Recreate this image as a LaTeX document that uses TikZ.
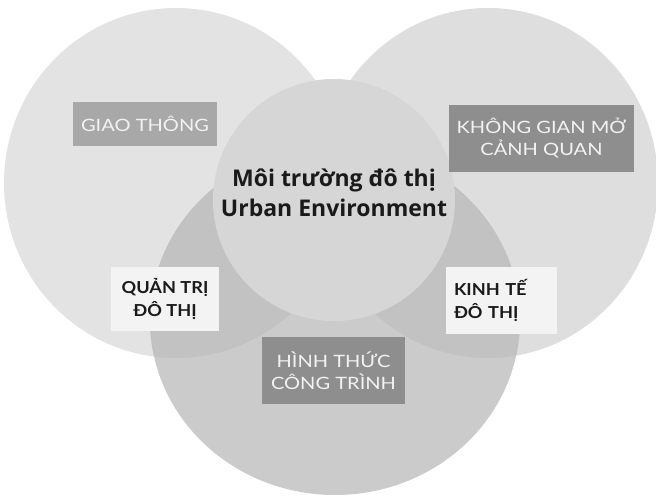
\documentclass[tikz,border=0pt]{standalone}
\usepackage{fontspec}
\setmainfont{Open Sans}
\newfontfamily\lightfont[FakeStretch=1.18]{Lato}
\newfontfamily\heavyfont[FakeStretch=1.1]{Lato}
\definecolor{leftgray}{HTML}{E3E3E3}
\definecolor{rightgray}{HTML}{DEDEDE}
\definecolor{bottomgray}{HTML}{CBCBCB}
\definecolor{overlapgray}{HTML}{C2C2C2}
\definecolor{topoverlap}{HTML}{D2D2D2}
\definecolor{coregray}{HTML}{D6D6D6}
\definecolor{boxmid}{HTML}{A8A8A8}
\definecolor{boxdark}{HTML}{8E8E8E}
\definecolor{boxlight}{HTML}{F3F3F3}
\definecolor{labeltext}{HTML}{F2F2F2}
\definecolor{inktext}{HTML}{1A1A1A}
\tikzset{
  tagbox/.style={rectangle, inner sep=0pt, align=center, font=\lightfont\fontsize{17}{22}\selectfont, text=labeltext},
  notebox/.style={rectangle, fill=boxlight, inner sep=0pt, font=\heavyfont\bfseries\fontsize{16.5}{22.5}\selectfont, text=inktext},
}
\newcommand{\leftshape}{(176,183) ellipse [x radius=172, y radius=175]}
\newcommand{\rightshape}{(488,183) ellipse [x radius=170, y radius=175]}
\newcommand{\bottomshape}{(335,320) ellipse [x radius=185, y radius=175]}
\begin{document}
\begin{tikzpicture}[x=1pt,y=-1pt]
\useasboundingbox (0,0) rectangle (656,497);
\fill[white] (0,0) rectangle (656,497);
% three outer fields
\fill[leftgray] \leftshape;
\fill[rightgray] \rightshape;
\fill[bottomgray] \bottomshape;
% overlaps of the outer fields
\begin{scope}
  \clip \leftshape;
  \fill[topoverlap] \rightshape;
  \fill[overlapgray] \bottomshape;
\end{scope}
\begin{scope}
  \clip \rightshape;
  \fill[overlapgray] \bottomshape;
\end{scope}
% central field
\fill[coregray] (334,200) circle [radius=121];
\node[font=\bfseries\fontsize{23}{30}\selectfont, text=inktext, align=center] (core) at (334,193)
  {Môi trường đô thị\\Urban Environment};
% labels of the outer fields
\node[tagbox, fill=boxmid, minimum width=144pt, minimum height=44pt] (traffic) at (145,124) {GIAO THÔNG};
\node[tagbox, fill=boxdark, minimum width=185pt, minimum height=67pt] (open) at (541.5,138.5) {KHÔNG GIAN MỞ\\CẢNH QUAN};
\node[tagbox, fill=boxdark, minimum width=143pt, minimum height=67pt] (form) at (333.5,370.5) {HÌNH THỨC\\CÔNG TRÌNH};
% labels of the overlaps
\node[notebox, align=center, minimum width=108pt, minimum height=64pt] (gov) at (165,299) {QUẢN TRỊ\\ĐÔ THỊ};
\node[notebox, align=left, text width=95pt, minimum height=67pt, inner xsep=8pt] (econ) at (501.5,300.5) {KINH TẾ\\ĐÔ THỊ};
\end{tikzpicture}
\end{document}
